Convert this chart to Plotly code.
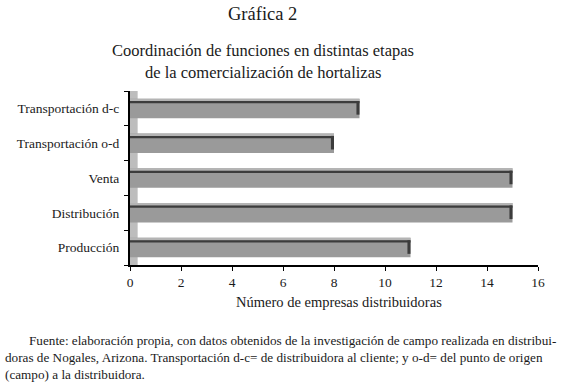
import plotly.graph_objects as go

categories = ["Producción", "Distribución", "Venta", "Transportación o-d", "Transportación d-c"]
values = [11, 15, 15, 8, 9]
x_ticks = [0, 2, 4, 6, 8, 10, 12, 14, 16]

FONT = "'Liberation Serif', 'Times New Roman', 'DejaVu Serif', serif"
TXT = "#1a1a1a"

W, H = 567, 384
L, R, T, B = 130, 29, 91, 119
PW, PH = W - L - R, H - T - B

def px(X):  # screen x -> paper x
    return (X - L) / PW

def py(Y):  # screen y -> paper y
    return (H - B - Y) / PH

BW = 0.56          # bar thickness in category units
half = BW / 2

fig = go.Figure()
# main bar body
fig.add_trace(go.Bar(
    y=categories, x=values, orientation="h",
    marker=dict(color="#9a9a9a", line=dict(width=0)),
    width=BW, offset=-half, showlegend=False, hoverinfo="x+y",
))
# light top bevel
fig.add_trace(go.Bar(
    y=categories, x=values, orientation="h",
    marker=dict(color="#b4b4b4", line=dict(width=0)),
    width=0.07, offset=half - 0.07, showlegend=False, hoverinfo="skip",
))
# dark top edge line
fig.add_trace(go.Bar(
    y=categories, x=values, orientation="h",
    marker=dict(color="#3c3c3c", line=dict(width=0)),
    width=0.065, offset=half - 0.135, showlegend=False, hoverinfo="skip",
))
# dark right-end cap
cap = 0.12
fig.add_trace(go.Bar(
    y=categories, x=[cap] * len(values), base=[v - cap for v in values],
    orientation="h",
    marker=dict(color="#3c3c3c", line=dict(width=0)),
    width=BW - 0.17, offset=-half + 0.1, showlegend=False, hoverinfo="skip",
))

fig.update_layout(
    width=W, height=H,
    barmode="overlay",
    margin=dict(l=L, r=R, t=T, b=B, autoexpand=False),
    paper_bgcolor="white", plot_bgcolor="white",
    font=dict(family=FONT, size=13, color=TXT),
    shapes=[dict(type="rect", xref="x", yref="paper", x0=0, x1=0.3, y0=0, y1=1,
                 fillcolor="#bdbdbd", line=dict(width=0), layer="below")],
)
fig.update_xaxes(
    range=[0, 16], tickvals=x_ticks, ticktext=[str(v) for v in x_ticks],
    showgrid=False, zeroline=False,
    showline=True, linecolor="black", linewidth=2,
    ticks="outside", ticklen=4, tickcolor="black", tickwidth=1,
    tickfont=dict(size=13.5, color=TXT), automargin=False,
)
fig.update_yaxes(
    type="category", categoryorder="array", categoryarray=categories,
    range=[-0.5, 4.5],
    showgrid=False, zeroline=False,
    showline=True, linecolor="black", linewidth=2,
    ticks="outside", ticklen=4, tickcolor="black", tickwidth=1,
    tickson="boundaries", ticklabelstandoff=6,
    tickfont=dict(size=13.5, color=TXT), automargin=False,
)

anns = [
    dict(text="Gráfica 2", x=262, y=14, size=18.5),
    dict(text="Coordinación de funciones en distintas etapas", x=263, y=50, size=16.5),
    dict(text="de la comercialización de hortalizas", x=263, y=72, size=16.5),
    dict(text="Número de empresas distribuidoras", x=339, y=302, size=14.5),
]
for a in anns:
    fig.add_annotation(
        text=a["text"], xref="paper", yref="paper",
        x=px(a["x"]), y=py(a["y"]),
        xanchor="center", yanchor="middle", showarrow=False,
        font=dict(family=FONT, size=a["size"], color=TXT),
    )

foot = [
    ("Fuente: elaboración propia, con datos obtenidos de la investigación de campo realizada en distribui-", 27, 340),
    ("doras de Nogales, Arizona. Transportación d-c= de distribuidora al cliente; y o-d= del punto de origen", 3, 357),
    ("(campo) a la distribuidora.", 3, 374),
]
for t, x, y in foot:
    fig.add_annotation(
        text=t, xref="paper", yref="paper",
        x=px(x), y=py(y),
        xanchor="left", yanchor="middle", showarrow=False,
        font=dict(family=FONT, size=13.2, color=TXT),
    )

fig.write_html(
    "out.html",
    config={"displayModeBar": False},
    post_script="document.body.style.margin='0';document.body.style.overflow='hidden';",
)
